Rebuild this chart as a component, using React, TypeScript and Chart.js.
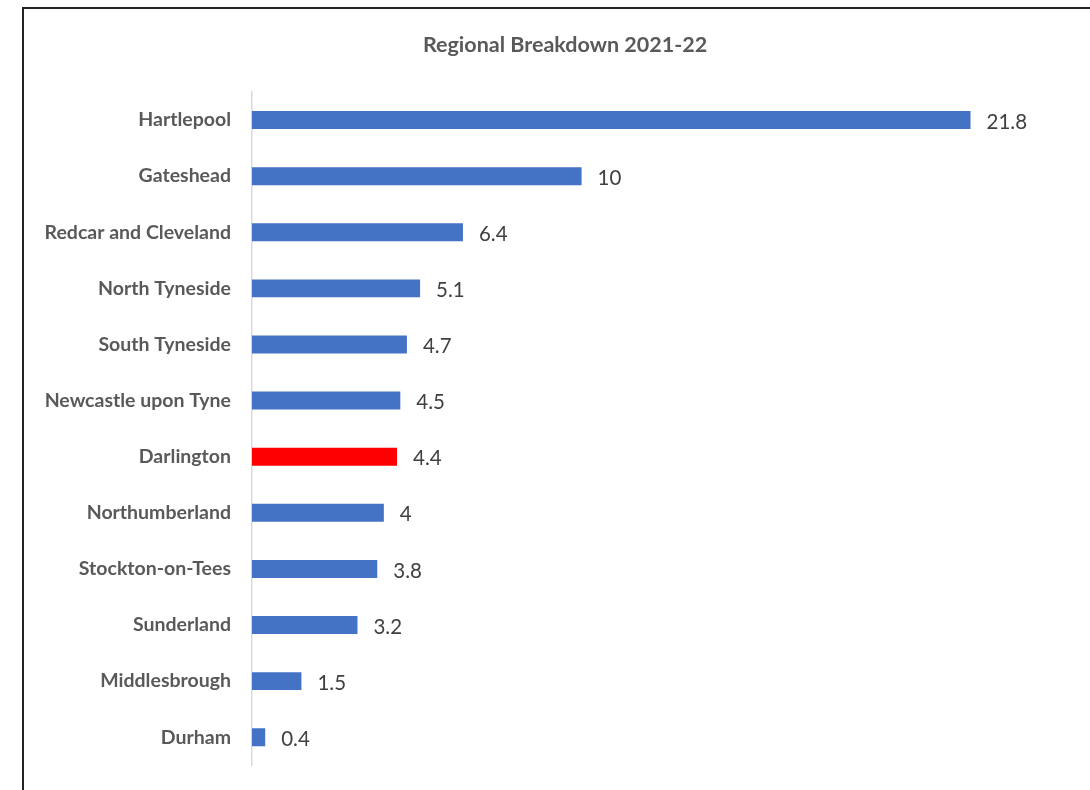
import React, { useEffect, useRef } from "react";
import { Chart, registerables } from "chart.js";

Chart.register(...registerables);

const categories = [
  "Hartlepool",
  "Gateshead",
  "Redcar and Cleveland",
  "North Tyneside",
  "South Tyneside",
  "Newcastle upon Tyne",
  "Darlington",
  "Northumberland",
  "Stockton-on-Tees",
  "Sunderland",
  "Middlesbrough",
  "Durham",
];
const values = [21.8, 10, 6.4, 5.1, 4.7, 4.5, 4.4, 4, 3.8, 3.2, 1.5, 0.4];
const highlight = "Darlington";
const title = "Regional Breakdown 2021-22";

const FONT = "Lato, 'Open Sans', sans-serif";

const labelPlugin = {
  id: "valueLabels",
  afterDatasetsDraw(chart: any) {
    const ctx = chart.ctx;
    const meta = chart.getDatasetMeta(0);
    ctx.save();
    ctx.font = `20.5px ${FONT}`;
    ctx.fillStyle = "#404040";
    ctx.textAlign = "left";
    ctx.textBaseline = "middle";
    meta.data.forEach((bar: any, i: number) => {
      ctx.fillText(String(values[i]), bar.x + 16, bar.y + 2);
    });
    ctx.restore();
  },
};

const titlePlugin = {
  id: "customTitle",
  afterDraw(chart: any) {
    const ctx = chart.ctx;
    ctx.save();
    ctx.font = `bold 21.5px ${FONT}`;
    ctx.fillStyle = "#595959";
    ctx.textAlign = "center";
    ctx.textBaseline = "middle";
    ctx.fillText(title, 565, 45);
    ctx.restore();
  },
};

export default function App() {
  const ref = useRef<HTMLCanvasElement>(null);
  useEffect(() => {
    if (!ref.current) return;
    const chart = new Chart(ref.current, {
      type: "bar",
      data: {
        labels: categories,
        datasets: [
          {
            data: values,
            backgroundColor: categories.map((c) => (c === highlight ? "#FF0000" : "#4472C4")),
            barPercentage: 0.64,
            categoryPercentage: 0.5,
          },
        ],
      },
      options: {
        indexAxis: "y",
        animation: false,
        responsive: false,
        maintainAspectRatio: false,
        layout: { padding: { top: 92, bottom: 20, left: 0, right: 14 } },
        plugins: { legend: { display: false }, tooltip: { enabled: false }, title: { display: false } },
        scales: {
          x: { display: false, min: 0, max: 25 },
          y: {
            afterFit: (s: any) => {
              s.width = 252;
            },
            grid: { display: false },
            border: { display: true, color: "#D9D9D9", width: 1.5 },
            ticks: {
              padding: 13,
              color: "#595959",
              font: { family: FONT, size: 19.5, weight: "bold" },
            },
          },
        },
      },
      plugins: [labelPlugin, titlePlugin],
    });
    return () => chart.destroy();
  }, []);
  return (
    <div style={{ position: "fixed", left: 0, top: 0, width: 1090, height: 790, background: "#fff", overflow: "hidden" }}>
      <canvas ref={ref} width={1090} height={790} style={{ position: "absolute", left: 0, top: 0 }} />
      <div
        style={{
          position: "absolute",
          left: 22,
          top: 7,
          width: 1100,
          height: 800,
          border: "2px solid #222",
          pointerEvents: "none",
        }}
      />
    </div>
  );
}
